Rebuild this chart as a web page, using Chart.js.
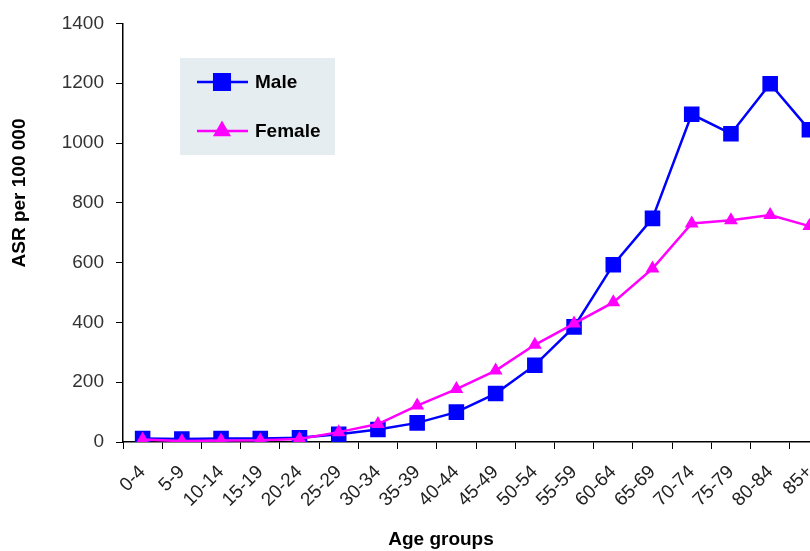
<!DOCTYPE html>
<html>
<head>
<meta charset="utf-8">
<script src="https://cdn.jsdelivr.net/npm/chart.js@4/dist/chart.umd.min.js"></script>
<style>
  html, body { margin: 0; padding: 0; background: #fff; overflow: hidden; }
  #wrap { width: 840px; height: 551px; }
</style>
</head>
<body>
<div id="wrap"><canvas id="myChart" width="840" height="551"></canvas></div>
<script>
const ageGroups = ['0-4', '5-9', '10-14', '15-19', '20-24', '25-29', '30-34', '35-39', '40-44',
  '45-49', '50-54', '55-59', '60-64', '65-69', '70-74', '75-79', '80-84', '85+'];
const maleRates = [12, 10, 12, 12, 14, 26, 42, 64, 100, 162, 257, 385, 593, 748, 1096, 1031, 1198, 1044];
const femaleRates = [8, 3, 5, 6, 10, 33, 60, 122, 177, 239, 325, 396, 467, 580, 731, 742, 759, 722];
const yTicks = [0, 200, 400, 600, 800, 1000, 1200, 1400];

const FONT = 'Arial, "Liberation Sans", sans-serif';
const MALE_COLOR = '#0000ff';
const FEMALE_COLOR = '#ff00ff';

// legend box and axis titles, drawn on top of the chart
const extras = {
  id: 'extras',
  afterDraw(chart) {
    const ctx = chart.ctx;
    ctx.save();

    // legend box
    ctx.fillStyle = '#e6edf0';
    ctx.fillRect(180, 58, 155, 97);
    const items = [
      { label: 'Male', color: MALE_COLOR, style: 'rect', radius: 11, y: 82 },
      { label: 'Female', color: FEMALE_COLOR, style: 'triangle', radius: 8, y: 131 }
    ];
    items.forEach(function(it) {
      ctx.strokeStyle = it.color;
      ctx.lineWidth = 2.5;
      ctx.beginPath();
      ctx.moveTo(197, it.y);
      ctx.lineTo(248, it.y);
      ctx.stroke();
      ctx.fillStyle = it.color;
      Chart.helpers.drawPoint(ctx, { pointStyle: it.style, radius: it.radius, rotation: 0, borderWidth: 1 }, 222, it.y);
      ctx.fill();
      ctx.fillStyle = '#000';
      ctx.font = 'bold 19px ' + FONT;
      ctx.textAlign = 'left';
      ctx.textBaseline = 'middle';
      ctx.fillText(it.label, 255, it.y + 1);
    });

    // axis titles
    ctx.fillStyle = '#000';
    ctx.font = 'bold 19px ' + FONT;
    ctx.textAlign = 'center';
    ctx.textBaseline = 'middle';
    ctx.fillText('Age groups', 441, 540);
    ctx.translate(20, 193);
    ctx.rotate(-Math.PI / 2);
    ctx.fillText('ASR per 100 000', 0, 0);
    ctx.restore();
  }
};

let config = {
  type: 'line',
  data: {
    labels: ageGroups,
    datasets: [
      {
        label: 'Male',
        data: maleRates,
        borderColor: MALE_COLOR,
        backgroundColor: MALE_COLOR,
        borderWidth: 2.5,
        pointStyle: 'rect',
        pointRadius: 11,
        pointBorderWidth: 0,
        tension: 0,
        order: 1
      },
      {
        label: 'Female',
        data: femaleRates,
        borderColor: FEMALE_COLOR,
        backgroundColor: FEMALE_COLOR,
        borderWidth: 2.5,
        pointStyle: 'triangle',
        pointRadius: 8,
        pointBorderWidth: 0,
        tension: 0,
        order: 0
      }
    ]
  },
  options: {
    responsive: false,
    animation: false,
    layout: { padding: { top: 16, right: 1, left: 0, bottom: 0 } },
    plugins: {
      legend: { display: false },
      tooltip: { enabled: false }
    },
    scales: {
      x: {
        offset: true,
        grid: { display: true, drawOnChartArea: false, offset: true, color: '#000', tickLength: 7 },
        border: { color: '#000', width: 1.5 },
        ticks: {
          color: '#222',
          font: { family: FONT, size: 19 },
          minRotation: 45,
          maxRotation: 45,
          padding: 12,
          autoSkip: false
        },
        afterFit(scale) { scale.height = 109; }
      },
      y: {
        min: 0,
        max: 1400,
        afterBuildTicks(scale) { scale.ticks = yTicks.map(v => ({ value: v })); },
        grid: { display: true, drawOnChartArea: false, color: '#000', tickLength: 7 },
        border: { color: '#000', width: 1.5 },
        ticks: {
          color: '#333',
          font: { family: FONT, size: 19 },
          padding: 12,
          callback: v => String(v)
        },
        afterFit(scale) { scale.width = 123; }
      }
    }
  },
  plugins: [extras]
};

let ctx = document.getElementById('myChart');
let myChart = new Chart(ctx, config);
</script>
</body>
</html>
